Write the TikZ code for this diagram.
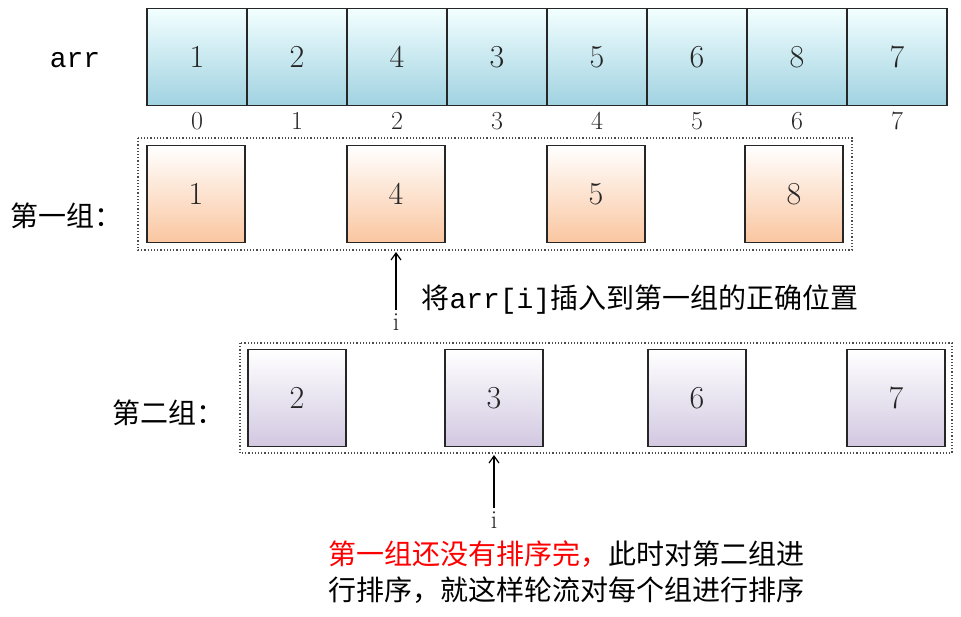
\documentclass[tikz,border=0pt]{standalone}
\usepackage{fontspec}
\usetikzlibrary{arrows.meta}
\newfontfamily\cjk{Noto Sans CJK SC}
\setmonofont{Liberation Mono}
\begin{document}
\begin{tikzpicture}[x=1pt,y=-1pt,
 cell/.style={draw=black!85,line width=1.2pt,minimum width=98pt,minimum height=97pt,inner sep=0pt,font=\fontsize{32}{32}\selectfont,text=black!85},
 topc/.style={cell,top color=cyan!5!white,bottom color={rgb,255:red,160;green,210;blue,225},minimum width=100pt},
 orc/.style={cell,top color=white,bottom color={rgb,255:red,250;green,198;blue,160}},
 puc/.style={cell,top color=white,bottom color={rgb,255:red,210;green,200;blue,225}},
 idx/.style={font=\fontsize{26}{26}\selectfont,text=black!85},
 grp/.style={draw=black!70,dotted,line width=1.2pt},
 lab/.style={font=\cjk\fontsize{28}{36}\selectfont},
 arr/.style={-{Straight Barb[length=7pt,width=10pt]},line width=1.2pt}]
\useasboundingbox (0,0) rectangle (961,616);
\node[font=\ttfamily\fontsize{28}{28}\selectfont] (arrl) at (75,60) {arr};
\foreach \v [count=\i from 0] in {1,2,4,3,5,6,8,7}{
  \node[topc] (t\i) at (197+\i*100,57) {\v};
  \node[idx] (n\i) at (197+\i*100,121) {\i};
}
\draw[grp] (138,138) rectangle (852,250);
\foreach \v/\x [count=\i] in {1/196,4/396,5/596,8/794}
  \node[orc] (o\i) at (\x,194) {\v};
\node[lab] (g1) at (66,216) {第一组：};
\draw[grp] (240,343) rectangle (952,453);
\foreach \v/\x [count=\i] in {2/297,3/494,6/697,7/896}
  \node[puc] (p\i) at (\x,398) {\v};
\node[lab] (g2) at (168,413) {第二组：};
\coordinate (a1) at (396,252);
\node[idx] (i1) at (396,322) {i};
\draw[arr] (i1.north) -- (a1);
\node[lab,anchor=west] (t1) at (418,300) {将\texttt{\fontsize{28}{28}\selectfont arr[i]}插入到第一组的正确位置};
\coordinate (a2) at (494,455);
\node[idx] (i2) at (494,520) {i};
\draw[arr] (i2.north) -- (a2);
\node[lab,align=left] (t2) at (566,572) {\textcolor{red}{第一组还没有排序完，}此时对第二组进\\行排序，就这样轮流对每个组进行排序};
\end{tikzpicture}
\end{document}
